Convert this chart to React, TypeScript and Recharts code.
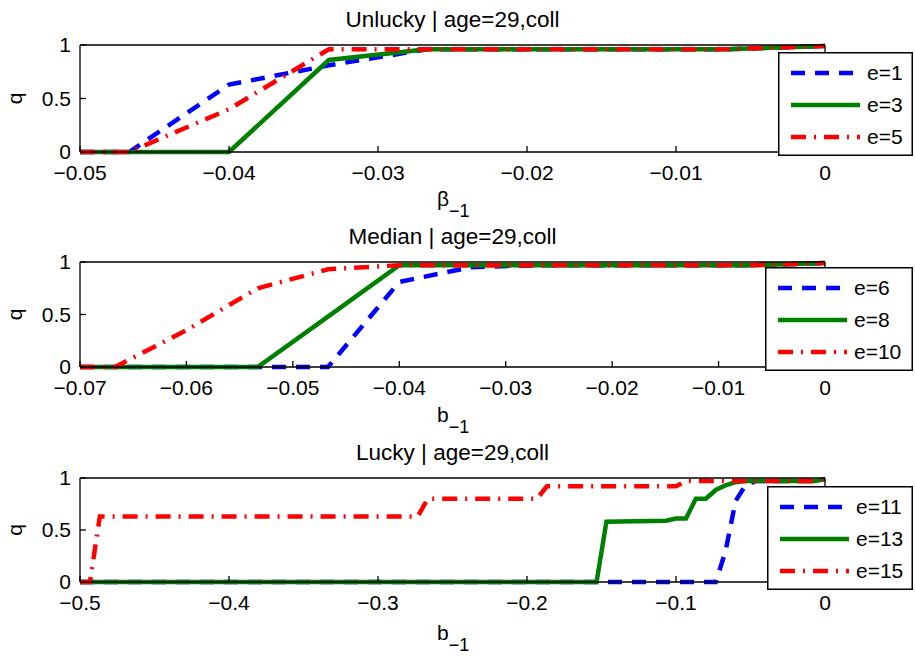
import React from 'react';
import { LineChart, Line, XAxis, YAxis, Legend } from 'recharts';

const FONT = '"Liberation Sans", Arial, Helvetica, sans-serif';

// Unlucky panel (beta_-1 grid)
const unluckyX = [-0.05, -0.0467, -0.04, -0.0333, -0.0267, -0.02, -0.0133, -0.0067, 0];
const unluckyE1 = [0, 0, 0.63, 0.81, 0.96, 0.96, 0.96, 0.96, 0.99];
const unluckyE3 = [0, 0, 0, 0.86, 0.96, 0.96, 0.96, 0.96, 0.99];
const unluckyE5 = [0, 0, 0.4, 0.96, 0.96, 0.96, 0.96, 0.96, 0.99];
const unluckyTicks = [-0.05, -0.04, -0.03, -0.02, -0.01, 0];

// Median panel
const medianX = [-0.07, -0.0667, -0.06, -0.0533, -0.0467, -0.04, -0.0333, -0.0267, -0.02, -0.0133, -0.0067, 0];
const medianE6 = [0, 0, 0, 0, 0, 0.81, 0.95, 0.97, 0.97, 0.97, 0.97, 0.99];
const medianE8 = [0, 0, 0, 0, 0.48, 0.97, 0.97, 0.97, 0.97, 0.97, 0.97, 0.99];
const medianE10 = [0, 0, 0.35, 0.75, 0.93, 0.97, 0.97, 0.97, 0.97, 0.97, 0.97, 0.99];
const medianTicks = [-0.07, -0.06, -0.05, -0.04, -0.03, -0.02, -0.01, 0];

// Lucky panel
const luckyX = [
  -0.5, -0.4933, -0.4867, -0.2733, -0.2667, -0.1933, -0.1867, -0.1533, -0.1467, -0.1067, -0.1,
  -0.0933, -0.0867, -0.08, -0.0733, -0.0667, -0.06, -0.0533, -0.0467, -0.0067, 0,
];
const luckyE11 = [
  0, 0, 0, 0, 0, 0, 0, 0, 0, 0, 0,
  0, 0, 0, 0, 0.3, 0.78, 0.93, 0.97, 0.97, 0.99,
];
const luckyE13 = [
  0, 0, 0, 0, 0, 0, 0, 0, 0.58, 0.59, 0.61,
  0.61, 0.8, 0.8, 0.885, 0.93, 0.96, 0.97, 0.97, 0.97, 0.99,
];
const luckyE15 = [
  0, 0, 0.63, 0.63, 0.8, 0.8, 0.92, 0.92, 0.92, 0.92, 0.92,
  0.97, 0.97, 0.97, 0.97, 0.97, 0.97, 0.97, 0.97, 0.97, 0.99,
];
const luckyTicks = [-0.5, -0.4, -0.3, -0.2, -0.1, 0];

const qTicks = [0, 0.5, 1];

// blue dashed, green solid, red dash-dot
const lineStyles = [
  { color: '#0000ff', dash: '14 10' },
  { color: '#008000', dash: undefined },
  { color: '#ff0000', dash: '15 8 2 8' },
];

const fmtTick = (v: number) => (v === 0 ? '0' : (v < 0 ? '\u2212' : '') + String(Math.abs(v)));

type Series = { name: string; values: number[] };

type PanelProps = {
  xs: number[];
  series: Series[];
  ticks: number[];
  top: number;
  height: number;
  plotTop: number;
  plotBottom: number;
  legendLeft: number;
  legendTop: number;
  legendWidth: number;
};

// plot box spans x = 80..825 in every panel
const PLOT_LEFT = 80;
const PLOT_RIGHT = 825;
const Y_AXIS_W = 40;
const X_AXIS_H = 30;
const EDGE = 5;
const LINE_W = 4.5;

const LegendBox = ({ series, width }: { series: Series[]; width: number }) => {
  const rows = [21, 53, 85];
  return (
    <svg width={width} height={104} style={{ display: 'block' }}>
      <rect x={0.75} y={0.75} width={width - 1.5} height={102.5} fill="#fff" stroke="#000" strokeWidth={1.5} />
      {series.map((s, i) => (
        <g key={s.name}>
          <line
            x1={13}
            x2={82}
            y1={rows[i]}
            y2={rows[i]}
            stroke={lineStyles[i].color}
            strokeWidth={LINE_W}
            strokeDasharray={lineStyles[i].dash}
          />
          <text x={89} y={rows[i] + 7} fontSize={21} fontFamily={FONT} fill="#000">
            {s.name}
          </text>
        </g>
      ))}
    </svg>
  );
};

const Panel = ({ xs, series, ticks, top, height, plotTop, plotBottom, legendLeft, legendTop, legendWidth }: PanelProps) => {
  const data = xs.map((x, i) => {
    const row: Record<string, number> = { x };
    series.forEach((s) => {
      row[s.name] = s.values[i];
    });
    return row;
  });
  const domain: [number, number] = [ticks[0], ticks[ticks.length - 1]];
  const tickStyle = { fontSize: 21, fill: '#000', fontFamily: FONT };
  const margin = {
    top: plotTop - EDGE,
    bottom: height - plotBottom - X_AXIS_H,
    left: PLOT_LEFT - Y_AXIS_W,
    right: 915 - PLOT_RIGHT - EDGE,
  };

  return (
    <div style={{ position: 'absolute', left: 0, top }}>
      <LineChart width={915} height={height} data={data} margin={margin}>
        <XAxis
          dataKey="x"
          type="number"
          domain={domain}
          ticks={ticks}
          interval={0}
          tickFormatter={fmtTick}
          tick={tickStyle}
          tickSize={-6}
          tickMargin={19}
          height={X_AXIS_H}
          stroke="#000"
          strokeWidth={1.3}
          tickLine={{ stroke: '#000' }}
        />
        <XAxis
          xAxisId="top"
          orientation="top"
          type="number"
          domain={domain}
          ticks={ticks}
          interval={0}
          tick={false}
          tickSize={-6}
          height={EDGE}
          stroke="#000"
          strokeWidth={1.3}
          tickLine={{ stroke: '#000' }}
        />
        <YAxis
          type="number"
          domain={[0, 1]}
          ticks={qTicks}
          interval={0}
          tick={tickStyle}
          tickSize={-6}
          tickMargin={15}
          width={Y_AXIS_W}
          stroke="#000"
          strokeWidth={1.3}
          tickLine={{ stroke: '#000' }}
        />
        <YAxis
          yAxisId="r"
          orientation="right"
          type="number"
          domain={[0, 1]}
          ticks={qTicks}
          interval={0}
          tick={false}
          tickSize={-6}
          width={EDGE}
          stroke="#000"
          strokeWidth={1.3}
          tickLine={{ stroke: '#000' }}
        />
        {series.map((s, i) => (
          <Line
            key={s.name}
            type="linear"
            dataKey={s.name}
            stroke={lineStyles[i].color}
            strokeWidth={LINE_W}
            strokeDasharray={lineStyles[i].dash}
            dot={false}
            activeDot={false}
            isAnimationActive={false}
          />
        ))}
        <Legend
          layout="vertical"
          align="center"
          verticalAlign="middle"
          wrapperStyle={{ left: legendLeft, top: legendTop, width: legendWidth, height: 104 }}
          content={() => <LegendBox series={series} width={legendWidth} />}
        />
      </LineChart>
    </div>
  );
};

const XLabel = ({ x, y, sym }: { x: number; y: number; sym: string }) => (
  <text x={x} y={y} fontSize={21} fontFamily={FONT} fill="#000">
    {sym}
    <tspan dy={11} fontSize={18}>
      {'\u22121'}
    </tspan>
  </text>
);

const QLabel = ({ y }: { y: number }) => (
  <text
    x={0}
    y={0}
    transform={`translate(22, ${y}) rotate(-90)`}
    textAnchor="middle"
    fontSize={21}
    fontFamily={FONT}
    fill="#000"
  >
    q
  </text>
);

export default function App() {
  return (
    <div style={{ position: 'absolute', left: 0, top: 0, width: 915, height: 658, background: '#fff' }}>
      <Panel
        xs={unluckyX}
        series={[
          { name: 'e=1', values: unluckyE1 },
          { name: 'e=3', values: unluckyE3 },
          { name: 'e=5', values: unluckyE5 },
        ]}
        ticks={unluckyTicks}
        top={0}
        height={230}
        plotTop={45}
        plotBottom={152}
        legendLeft={778}
        legendTop={52}
        legendWidth={135}
      />
      <Panel
        xs={medianX}
        series={[
          { name: 'e=6', values: medianE6 },
          { name: 'e=8', values: medianE8 },
          { name: 'e=10', values: medianE10 },
        ]}
        ticks={medianTicks}
        top={215}
        height={220}
        plotTop={47}
        plotBottom={152}
        legendLeft={765}
        legendTop={52}
        legendWidth={148}
      />
      <Panel
        xs={luckyX}
        series={[
          { name: 'e=11', values: luckyE11 },
          { name: 'e=13', values: luckyE13 },
          { name: 'e=15', values: luckyE15 },
        ]}
        ticks={luckyTicks}
        top={435}
        height={223}
        plotTop={43}
        plotBottom={147}
        legendLeft={767}
        legendTop={51}
        legendWidth={146}
      />
      <svg
        width={915}
        height={658}
        style={{ position: 'absolute', left: 0, top: 0, pointerEvents: 'none' }}
      >
        <g fontFamily={FONT} fontSize={22.5} fill="#000" textAnchor="middle">
          <text x={452.5} y={27}>Unlucky | age=29,coll</text>
          <text x={452.5} y={244}>Median | age=29,coll</text>
          <text x={452.5} y={460}>Lucky | age=29,coll</text>
        </g>
        <QLabel y={98.5} />
        <QLabel y={314.5} />
        <QLabel y={530} />
        <XLabel x={437} y={206} sym={'\u03b2'} />
        <XLabel x={437} y={422} sym="b" />
        <XLabel x={437} y={640} sym="b" />
      </svg>
    </div>
  );
}
